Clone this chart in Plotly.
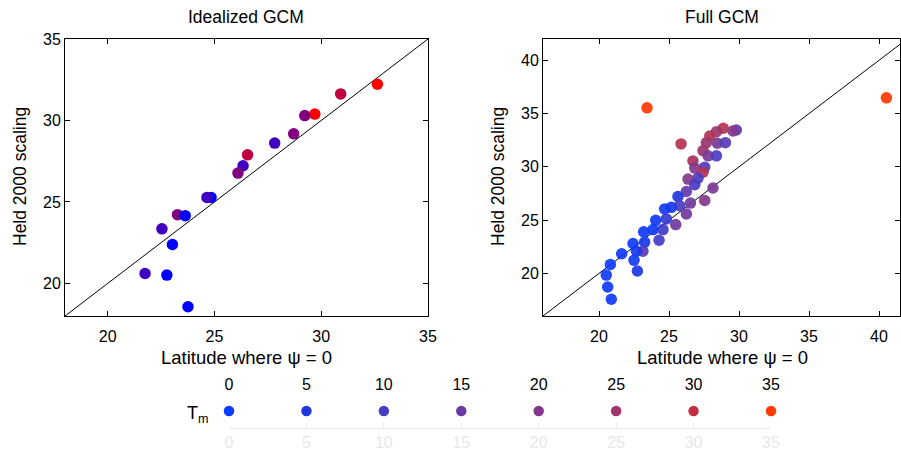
import plotly.graph_objects as go

# ---------------- data ----------------
ideal_lat = [32.63, 30.91, 29.70, 29.23, 28.71, 27.82, 26.55, 26.34, 26.10, 24.84,
             24.65, 23.27, 23.63, 22.54, 23.03, 21.75, 22.77, 23.76]
ideal_held = [32.22, 31.63, 30.39, 30.30, 29.18, 28.61, 27.89, 27.22, 26.77, 25.28,
              25.28, 24.22, 24.16, 23.35, 22.39, 20.61, 20.51, 18.57]
ideal_tm = [35, 26.25, 35, 17.5, 17.5, 8.75, 26.25, 8.75, 17.5, 0,
            8.75, 17.5, 0, 8.75, 0, 8.75, 0, 0]

full_lat = [23.43, 40.53, 25.86, 28.88, 28.39, 27.91, 29.81, 29.57, 27.67, 28.45,
            29.03, 27.43, 27.79, 28.39, 26.71, 26.84, 27.55, 27.43, 27.07, 26.36,
            26.84, 28.14, 26.24, 25.64, 27.55, 26.53, 25.76, 25.17, 24.69, 26.24,
            25.48, 24.81, 24.05, 24.57, 23.86, 23.19, 24.29, 23.26, 22.43, 23.14,
            22.67, 21.62, 22.50, 20.81, 22.74, 20.52, 20.62, 20.88]
full_held = [35.54, 36.48, 32.15, 33.62, 33.30, 32.90, 33.46, 33.36, 32.27, 32.21,
             32.27, 31.52, 31.03, 31.03, 30.56, 29.88, 29.97, 29.50, 28.94, 28.85,
             28.32, 28.01, 27.69, 27.22, 26.85, 26.60, 26.36, 26.20, 26.05, 25.58,
             24.58, 25.11, 24.98, 24.11, 24.11, 23.90, 23.11, 22.93, 22.80, 22.08,
             22.08, 21.84, 21.24, 20.84, 20.22, 19.84, 18.72, 17.57]
full_tm = [35, 35, 28, 28, 24, 28, 12, 20, 24, 18,
           12, 24, 18, 10, 26, 20, 10, 28, 10, 20,
           10, 18, 14, 5, 20, 16, 10, 3, 2, 16,
           16, 8, 1, 9, 1, 1, 9, 3, 1, 12,
           3, 1, 2, 1, 4, 1, 1, 1]

legend_tm = [0, 5, 10, 15, 20, 25, 30, 35]
legend_colors = ['#0a3cff', '#2236e0', '#4a3cc0', '#6a3aa6', '#84378c', '#a03468',
                 '#c23040', '#ff3a00']

ideal_range = [18, 35]
full_xrange = [16, 41.5]
full_yrange = [16, 42]

# ---------------- figure ----------------
W, H = 901, 453
def px(x):
    return x / W
def py(y):
    return 1 - y / H

ideal_scale = [[0, '#0000ff'], [1, '#ff0000']]
full_scale = [[t / 35, c] for t, c in zip(legend_tm, legend_colors)]

fig = go.Figure()

# diagonal lines
fig.add_trace(go.Scatter(x=ideal_range, y=ideal_range, mode='lines',
                         line=dict(color='black', width=1), xaxis='x', yaxis='y',
                         hoverinfo='skip', showlegend=False))
fig.add_trace(go.Scatter(x=[16, 42], y=[16, 42], mode='lines',
                         line=dict(color='black', width=1), xaxis='x2', yaxis='y2',
                         hoverinfo='skip', showlegend=False))

fig.add_trace(go.Scatter(x=ideal_lat, y=ideal_held, mode='markers', xaxis='x', yaxis='y',
                         marker=dict(size=11.5, color=ideal_tm, colorscale=ideal_scale,
                                     cmin=0, cmax=35, line=dict(width=0)),
                         showlegend=False))
fig.add_trace(go.Scatter(x=full_lat, y=full_held, mode='markers', xaxis='x2', yaxis='y2',
                         marker=dict(size=11.5, color=full_tm, colorscale=full_scale,
                                     cmin=0, cmax=35, opacity=0.92, line=dict(width=0)),
                         showlegend=False))

font_family = 'Liberation Sans, Arial, Helvetica, sans-serif'

# Tm key
fig.add_trace(go.Scatter(x=legend_tm, y=[17] * len(legend_tm), mode='markers',
                         xaxis='x3', yaxis='y3', cliponaxis=False,
                         marker=dict(size=10.5, color=legend_colors, line=dict(width=0)),
                         showlegend=False))
fig.add_trace(go.Scatter(x=legend_tm, y=[42] * len(legend_tm), mode='text',
                         text=[str(v) for v in legend_tm], xaxis='x3', yaxis='y3',
                         cliponaxis=False,
                         textfont=dict(size=16, color='black', family=font_family),
                         showlegend=False, hoverinfo='skip'))

ax_common = dict(showline=True, linecolor='black', linewidth=1, mirror='ticks',
                 ticks='inside', ticklen=5, tickcolor='black', showgrid=False,
                 zeroline=False, automargin=False,
                 tickfont=dict(size=16, color='black', family=font_family))

fig.update_layout(
    width=W, height=H,
    margin=dict(l=0, r=0, t=0, b=0, pad=0),
    paper_bgcolor='white', plot_bgcolor='white',
    font=dict(family=font_family, color='black'),
    xaxis=dict(domain=[px(65), px(428)], range=ideal_range, anchor='y',
               tickvals=[20, 25, 30, 35], ticklabelstandoff=6, **ax_common),
    yaxis=dict(domain=[py(316), py(39)], range=ideal_range, anchor='x',
               tickvals=[20, 25, 30, 35], **ax_common),
    xaxis2=dict(domain=[px(543), px(900)], range=full_xrange, anchor='y2',
                tickvals=[20, 25, 30, 35, 40], ticklabelstandoff=6, **ax_common),
    yaxis2=dict(domain=[py(316), py(39)], range=full_yrange, anchor='x2',
                tickvals=[20, 25, 30, 35, 40], **ax_common),
    xaxis3=dict(domain=[px(229), px(771)], range=[0, 35], anchor='y3',
                showline=True, linecolor='#ebebeb', linewidth=1,
                ticks='inside', ticklen=5, tickcolor='#ebebeb', automargin=False,
                tickvals=legend_tm, showgrid=False, zeroline=False,
                tickfont=dict(size=16, color='#e8e8e8', family=font_family)),
    yaxis3=dict(domain=[py(428), py(375)], range=[0, 53], anchor='x3',
                visible=False, automargin=False),
)

annots = [
    dict(text='Idealized GCM', x=px(246), y=py(17), font=dict(size=17.5)),
    dict(text='Full GCM', x=px(722), y=py(17), font=dict(size=17.5)),
    dict(text='Latitude where ψ = 0', x=px(246), y=py(357), font=dict(size=18.5)),
    dict(text='Latitude where ψ = 0', x=px(722), y=py(357), font=dict(size=18.5)),
    dict(text='Held 2000 scaling', x=px(20), y=py(177), textangle=-90, font=dict(size=17.5)),
    dict(text='Held 2000 scaling', x=px(498), y=py(177), textangle=-90, font=dict(size=17.5)),
    dict(text='T<sub>m</sub>', x=px(198), y=py(414), font=dict(size=18)),
]
for a in annots:
    fig.add_annotation(xref='paper', yref='paper', showarrow=False,
                       xanchor='center', yanchor='middle', **a)

fig.write_html('out.html', config={'displayModeBar': False},
               post_script="document.body.style.margin='0';"
                           "document.body.style.overflow='hidden';")
